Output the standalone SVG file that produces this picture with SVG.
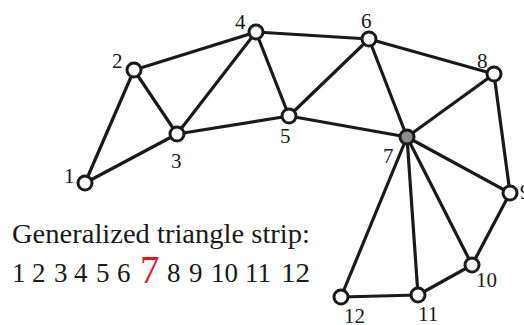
<svg xmlns="http://www.w3.org/2000/svg" width="524" height="325" viewBox="0 0 524 325">
<style>
.e{stroke:#1a1a1a;stroke-width:3.2;fill:none;stroke-linecap:round}
.n{fill:#fff;stroke:#1a1a1a;stroke-width:3}
.g{fill:#8c8c8c;stroke:#1a1a1a;stroke-width:3}
.l{font-family:"Liberation Serif","Times New Roman",serif;font-size:21px;fill:#1a1a1a}
.t{font-family:"Liberation Serif","Times New Roman",serif;font-size:27px;fill:#1a1a1a}
.r{font-family:"Liberation Serif","Times New Roman",serif;font-size:39px;fill:#e8141c}
</style>
<rect width="524" height="325" fill="#fff"/>
<g id="connectors">
<line class="e" x1="85" y1="183" x2="134" y2="70"/>
<line class="e" x1="85" y1="183" x2="177" y2="134"/>
<line class="e" x1="134" y1="70" x2="177" y2="134"/>
<line class="e" x1="134" y1="70" x2="256" y2="32"/>
<line class="e" x1="177" y1="134" x2="256" y2="32"/>
<line class="e" x1="177" y1="134" x2="289" y2="116"/>
<line class="e" x1="256" y1="32" x2="289" y2="116"/>
<line class="e" x1="256" y1="32" x2="369" y2="39"/>
<line class="e" x1="289" y1="116" x2="369" y2="39"/>
<line class="e" x1="289" y1="116" x2="407" y2="137"/>
<line class="e" x1="369" y1="39" x2="407" y2="137"/>
<line class="e" x1="369" y1="39" x2="494" y2="74"/>
<line class="e" x1="407" y1="137" x2="494" y2="74"/>
<line class="e" x1="494" y1="74" x2="510" y2="193"/>
<line class="e" x1="407" y1="137" x2="510" y2="193"/>
<line class="e" x1="407" y1="137" x2="472" y2="265"/>
<line class="e" x1="510" y1="193" x2="472" y2="265"/>
<line class="e" x1="407" y1="137" x2="418" y2="295"/>
<line class="e" x1="472" y1="265" x2="418" y2="295"/>
<line class="e" x1="407" y1="137" x2="341" y2="297"/>
<line class="e" x1="418" y1="295" x2="341" y2="297"/>
</g>
<g id="n1"><circle class="n" cx="85" cy="183" r="7"/><text class="l" x="64" y="183">1</text></g>
<g id="n2"><circle class="n" cx="134" cy="70" r="7"/><text class="l" x="112" y="68">2</text></g>
<g id="n3"><circle class="n" cx="177" cy="134" r="7"/><text class="l" x="171" y="168">3</text></g>
<g id="n4"><circle class="n" cx="256" cy="32" r="7"/><text class="l" x="235" y="29">4</text></g>
<g id="n5"><circle class="n" cx="289" cy="116" r="7"/><text class="l" x="280" y="143">5</text></g>
<g id="n6"><circle class="n" cx="369" cy="39" r="7"/><text class="l" x="361" y="28">6</text></g>
<g id="n7"><circle class="g" cx="407" cy="137" r="7"/><text class="l" x="383" y="163">7</text></g>
<g id="n8"><circle class="n" cx="494" cy="74" r="7"/><text class="l" x="477" y="68">8</text></g>
<g id="n9"><circle class="n" cx="510" cy="193" r="7"/><text class="l" x="520" y="199">9</text></g>
<g id="n10"><circle class="n" cx="472" cy="265" r="7"/><text class="l" x="476" y="287">10</text></g>
<g id="n11"><circle class="n" cx="418" cy="295" r="7"/><text class="l" x="418" y="321">11</text></g>
<g id="n12"><circle class="n" cx="341" cy="297" r="7"/><text class="l" x="344" y="323">12</text></g>
<text class="t" x="12" y="243" textLength="298" lengthAdjust="spacingAndGlyphs">Generalized triangle strip:</text>
<g id="sequence">
<text class="t" x="12" y="282">1</text>
<text class="t" x="32" y="282">2</text>
<text class="t" x="54" y="282">3</text>
<text class="t" x="74" y="282">4</text>
<text class="t" x="96" y="282">5</text>
<text class="t" x="117" y="282">6</text>
<text class="r" x="140" y="283">7</text>
<text class="t" x="167" y="282">8</text>
<text class="t" x="189" y="282">9</text>
<text class="t" x="211" y="282" textLength="27" lengthAdjust="spacingAndGlyphs">10</text>
<text class="t" x="245" y="282" textLength="26" lengthAdjust="spacingAndGlyphs">11</text>
<text class="t" x="281" y="282" textLength="29" lengthAdjust="spacingAndGlyphs">12</text>
</g>
</svg>
